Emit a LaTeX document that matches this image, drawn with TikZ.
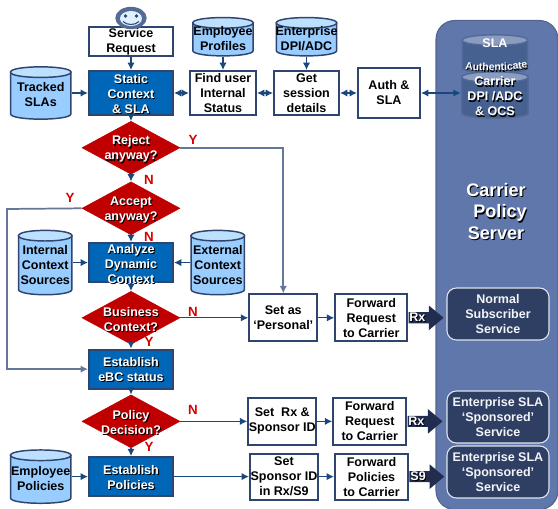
\documentclass[tikz,border=0pt]{standalone}
\usepackage{fontspec}
\setmainfont{Liberation Sans}
\usepackage{xcolor}
\usetikzlibrary{shapes,arrows.meta,positioning,decorations.text}
\definecolor{flowblue}{RGB}{0, 102, 184}
\definecolor{boxedge}{RGB}{47, 69, 112}
\definecolor{linenavy}{RGB}{27, 72, 124}
\definecolor{linegrey}{RGB}{100, 118, 155}
\definecolor{dbbody}{RGB}{153, 204, 255}
\definecolor{dbtop}{RGB}{190, 224, 255}
\definecolor{decisionred}{RGB}{192, 0, 0}
\definecolor{panelblue}{RGB}{95, 119, 170}
\definecolor{serverdark}{RGB}{47, 63, 99}
\definecolor{arrowdark}{RGB}{33, 44, 78}
\definecolor{serverdb}{RGB}{70, 96, 143}
\definecolor{serveredge}{RGB}{82, 106, 155}
\definecolor{servertop}{RGB}{140, 156, 190}
\newcommand{\sdw}[1]{\leavevmode\rlap{\raisebox{-0.8pt}{\hspace{0.8pt}\textcolor{black}{#1}}}\textcolor{white}{#1}}
\tikzset{
    sz/.style 2 args={minimum width=#1*0.75pt, minimum height=#2*0.75pt},
    boxsz/.style 2 args={minimum width=#1*0.75pt-1.5pt, minimum height=#2*0.75pt-1.5pt},
    flowtext/.style={font=\fontsize{9.4}{11.25}\selectfont\bfseries, align=center, inner sep=0pt},
    dblabel/.style={flowtext, yshift=-1.5pt},
    whitebox/.style={rectangle, draw=boxedge, line width=1.5pt, fill=white, flowtext},
    bluebox/.style={rectangle, draw=boxedge, line width=1.5pt, fill=flowblue, flowtext},
    dbshape/.style n args={3}{rectangle, inner sep=0pt, path picture={
        \coordinate (tl) at ([xshift=0.6pt,yshift=-4.6pt]path picture bounding box.north west);
        \coordinate (tr) at ([xshift=-0.6pt,yshift=-4.6pt]path picture bounding box.north east);
        \coordinate (bl) at ([xshift=0.6pt,yshift=4.6pt]path picture bounding box.south west);
        \coordinate (br) at ([xshift=-0.6pt,yshift=4.6pt]path picture bounding box.south east);
        \draw[draw=#1, fill=#2, line width=1.1pt] (tl) -- (bl) .. controls ([yshift=-5.3pt]bl) and ([yshift=-5.3pt]br) .. (br) -- (tr) -- cycle;
        \draw[draw=#1, fill=#3, line width=1.1pt] (tl) .. controls ([yshift=5.3pt]tl) and ([yshift=5.3pt]tr) .. (tr) .. controls ([yshift=-5.3pt]tr) and ([yshift=-5.3pt]tl) .. (tl) -- cycle;
    }},
    database/.style={dbshape={boxedge}{dbbody}{dbtop}},
    serverdata/.style={dbshape={serveredge}{serverdb}{servertop}},
    decision/.style={diamond, fill=decisionred, draw=decisionred, sz={98}{53}, inner sep=0pt},
    decisionlabel/.style={flowtext, yshift=-1.5pt},
    service/.style={rectangle, rounded corners=7pt, draw=white!80!panelblue, line width=0.8pt, fill=serverdark, text=white!92!panelblue, flowtext, sz={102}{52}},
    bigarrow/.style={single arrow, fill=arrowdark, inner sep=0pt, minimum height=26.25pt, single arrow head extend=5pt, single arrow tip angle=80, single arrow head indent=0pt},
    flowline/.style={->, >={Latex[length=5.5pt,width=5.5pt]}, line width=1pt, linenavy},
    bothline/.style={flowline, <->},
    greyline/.style={flowline, linegrey, line width=1.3pt},
    yesno/.style={font=\fontsize{10}{10}\selectfont\bfseries, text=red!85!black, inner sep=0pt}
}
\begin{document}
\begin{tikzpicture}[x=0.75pt, y=-0.75pt]
    \useasboundingbox (0,0) rectangle (558,509);

    % carrier side
    \node[rectangle, rounded corners=14pt, draw=panelblue!85!black, line width=0.8pt, fill=panelblue, sz={122}{489}] (carrier) at (497,265) {};
    \node[serverdata, sz={67}{40}] (sladb) at (495,54) {};
    \node[flowtext, text=white] (slatext) at (495,43) {SLA};
    \node[serverdata, sz={68}{48}] (carrierdb) at (495,95) {};
    \node[flowtext] (carriertext) at (495,97) {\sdw{Carrier}\\\sdw{DPI /ADC}\\\sdw{\& OCS}};
    \path[decorate, decoration={text along path, text align=center, text={|\fontsize{7.8}{8}\selectfont\bfseries\color{black}|Authenticate}}] (465.9,70.9) .. controls (485,73) and (510,73) .. (528.9,68.9);
    \path[decorate, decoration={text along path, text align=center, text={|\fontsize{7.8}{8}\selectfont\bfseries\color{white}|Authenticate}}] (465,69.5) .. controls (485,71.6) and (510,71.6) .. (528,67.5);
    \node[flowtext, font=\fontsize{13.6}{16}\selectfont\bfseries] (carriername) at (496,212) {\sdw{Carrier}\\\hspace{6pt}\sdw{Policy}\\\sdw{Server}};
    \node[service] (normalsvc) at (498,314) {Normal\\Subscriber\\Service};
    \node[service] (sponsorsvc) at (498,417) {Enterprise SLA\\‘Sponsored’\\Service};
    \node[service] (policysvc) at (498,472) {Enterprise SLA\\‘Sponsored’\\Service};

    % main column
    \node[bluebox, boxsz={86}{46}, label={[decisionlabel, yshift=0.5pt]center:\sdw{Static}\\\sdw{Context}\\\sdw{\& SLA}}] (static) at (131,93) {};
    \node[whitebox, boxsz={86}{31}, above=9.75pt of static] (request) {Service\\Request};
    \node[decision, below=3.75pt of static, label={[decisionlabel]center:\sdw{Reject}\\\sdw{anyway?}}] (reject) {};
    \node[decision, below=5.25pt of reject, label={[decisionlabel]center:\sdw{Accept}\\\sdw{anyway?}}] (accept) {};
    \node[bluebox, boxsz={86}{41}, below=5.25pt of accept, label={[decisionlabel]center:\sdw{Analyze}\\\sdw{Dynamic}\\\sdw{Context}}] (analyze) {};
    \node[decision, below=6pt of analyze, label={[decisionlabel]center:\sdw{Business}\\\sdw{Context?}}] (business) {};
    \node[bluebox, boxsz={86}{41}, below=3pt of business, label={[flowtext, yshift=-0.8pt]center:\sdw{Establish}\\\sdw{eBC status}}] (establish) {};
    \node[decision, below=3.75pt of establish, label={[decisionlabel]center:\sdw{Policy}\\\sdw{Decision?}}] (policy) {};
    \node[bluebox, boxsz={86}{41}, below=6pt of policy, label={[flowtext, yshift=-0.8pt]center:\sdw{Establish}\\\sdw{Policies}}] (policies) {};

    % requester face
    \node[ellipse, draw=boxedge!80!white, line width=1pt, fill=boxedge!70!dbbody, sz={30}{21}, inner sep=0pt] (face) at (131,18) {};
    \node[ellipse, fill=white!70!dbbody, sz={22}{15}, inner sep=0pt] (faceinner) at (131,18.5) {};
    \fill[boxedge] (125.5,16) circle (1.9) (136.5,16) circle (1.9);
    \draw[boxedge, line width=0.8pt] (123,21.5) .. controls (127,25.5) and (135,25.5) .. (139,21.5);

    % top row
    \node[whitebox, boxsz={68}{46}, right=11.25pt of static] (finduser) {Find user\\Internal\\Status};
    \node[whitebox, boxsz={67}{46}, right=12pt of finduser] (session) {Get\\session\\details};
    \node[whitebox, boxsz={64}{52}, right=12.75pt of session] (auth) {Auth \&\\SLA};
    \node[database, sz={62}{40}, above=9.75pt of finduser, label={[dblabel]center:Employee\\Profiles}] (profiles) {};
    \node[database, sz={62}{40}, above=9.75pt of session, label={[dblabel]center:Enterprise\\DPI/ADC}] (enterprise) {};

    % left and right stores
    \node[database, sz={62}{54}, left=12pt of static, label={[dblabel]center:Tracked\\SLAs}] (tracked) {};
    \node[database, sz={55}{66}, left=11.25pt of analyze, label={[dblabel]center:Internal\\Context\\Sources}] (internal) {};
    \node[database, sz={55}{66}, right=12pt of analyze, label={[dblabel]center:External\\Context\\Sources}] (external) {};
    \node[database, sz={62}{55}, left=12pt of policies, label={[dblabel]center:Employee\\Policies}] (employee) {};

    % outcome rows
    \node[whitebox, boxsz={70}{49}, right=51pt of business] (personal) {Set as\\‘Personal’};
    \node[whitebox, boxsz={74}{49}, right=12pt of personal] (forwardone) {Forward\\Request\\to Carrier};
    \node[whitebox, boxsz={70}{49}, right=50.25pt of policy] (setrx) {Set~~Rx \&\\Sponsor ID};
    \node[whitebox, boxsz={75}{49}, right=11.25pt of setrx] (forwardtwo) {Forward\\Request\\to Carrier};
    \node[whitebox, boxsz={70}{48}, right=56.25pt of policies] (setsponsor) {Set\\Sponsor ID\\in Rx/S9};
    \node[whitebox, boxsz={75}{48}, right=11.25pt of setsponsor] (forwardthree) {Forward\\Policies\\to Carrier};

    \node[bigarrow, right=0pt of forwardone, label={[flowtext, xshift=-4pt]center:\sdw{Rx}}] (rxone) {\rule{0pt}{8pt}};
    \node[bigarrow, right=0pt of forwardtwo, label={[flowtext, xshift=-4pt]center:\sdw{Rx}}] (rxtwo) {\rule{0pt}{8pt}};
    \node[bigarrow, right=0pt of forwardthree, label={[flowtext, xshift=-4pt]center:\sdw{S9}}] (sninetext) {\rule{0pt}{8pt}};

    \coordinate (leftbus) at (7,209);

    \draw[flowline] (request) -- (static);
    \draw[flowline] (static) -- (reject);
    \draw[flowline] (reject) -- (accept);
    \draw[flowline] (accept) -- (analyze);
    \draw[flowline] (analyze) -- (business);
    \draw[flowline] (business) -- (establish);
    \draw[flowline] (establish) -- (policy);
    \draw[flowline] (policy) -- (policies);

    \draw[flowline] (tracked.east |- static) -- (static);
    \draw[flowline] (internal.east |- analyze) -- (analyze);
    \draw[flowline] (external.west |- analyze) -- (analyze);
    \draw[flowline] (employee.east |- policies) -- (policies);
    \draw[flowline] (profiles) -- (finduser);
    \draw[flowline] (enterprise) -- (session);

    \draw[bothline] (static) -- (finduser);
    \draw[bothline] (finduser) -- (session);
    \draw[bothline] (session) -- (auth);
    \draw[bothline] (auth.east) -- (carrierdb.west |- auth.east);

    \draw[greyline] (reject.east) -| (personal.north);
    \draw[greyline] (accept.west) -- (leftbus) |- (establish.west);
    \draw[flowline] (business) -- (personal);
    \draw[flowline] (policy) -- (setrx);
    \draw[flowline] (policies) -- (setsponsor);
    \draw[flowline] (personal) -- (forwardone);
    \draw[flowline] (setrx) -- (forwardtwo);
    \draw[flowline] (setsponsor) -- (forwardthree);

    \node[yesno] (rejecty) at (193,140) {Y};
    \node[yesno] (rejectn) at (149,180) {N};
    \node[yesno] (accepty) at (70,198) {Y};
    \node[yesno] (acceptn) at (149,237) {N};
    \node[yesno] (businessn) at (193,312) {N};
    \node[yesno] (businessy) at (149,342) {Y};
    \node[yesno] (policyn) at (193,410) {N};
    \node[yesno] (policyy) at (149,447) {Y};
\end{tikzpicture}
\end{document}
